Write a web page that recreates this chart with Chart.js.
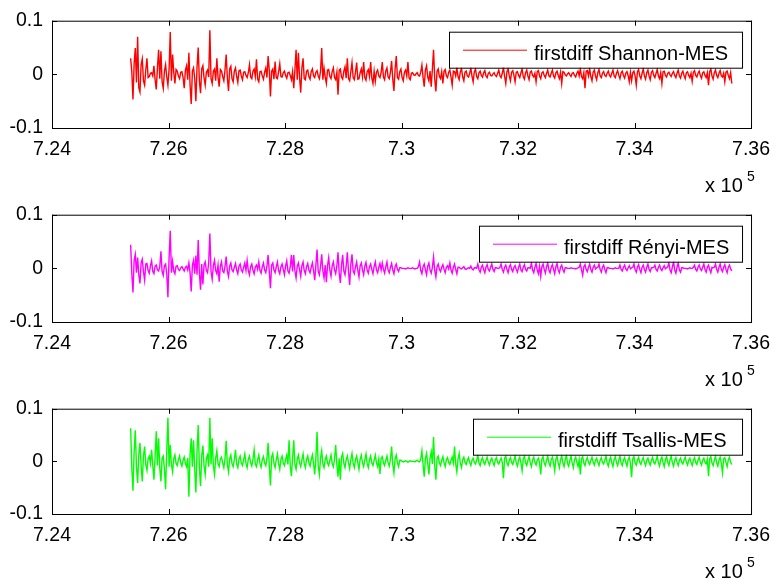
<!DOCTYPE html>
<html>
<head>
<meta charset="utf-8">
<script src="https://cdn.jsdelivr.net/npm/chart.js@4.4.0/dist/chart.umd.min.js"></script>
<style>
  body { margin: 0; background: #fff; }
  #wrap { position: relative; width: 780px; height: 582px; }
  canvas { position: absolute; left: 0; }
</style>
</head>
<body>
<div id="wrap">
  <canvas id="c1" width="780" height="194" style="top:0px"></canvas>
  <canvas id="c2" width="780" height="194" style="top:194px"></canvas>
  <canvas id="c3" width="780" height="194" style="top:388px"></canvas>
</div>
<script>
// samples: one every 20 units starting at 7.2535e5
var xStart = 725350;
var xStep = 20;

var xTicks = [724000, 726000, 728000, 730000, 732000, 734000, 736000];
var xTickLabels = ['7.24', '7.26', '7.28', '7.3', '7.32', '7.34', '7.36'];
var yTicks = [-0.1, 0, 0.1];
var yTickLabels = ['-0.1', '0', '0.1'];

var seriesNames = ['firstdiff Shannon-MES', 'firstdiff R\u00e9nyi-MES', 'firstdiff Tsallis-MES'];

// values in units of 1e-3
var shannonMilli = [
  30, 5, -47, 20, 49, -15, 70, -25, -33, 18, 29, -12, -20, 8, 30, -6, -4, 2, 3, -3,
  16, -10, -28, 12, 46, -8, 43, -14, -26, 6, 18, -5, -20, 10, 79, -12, 37, 4, -17, 9,
  6, -3, -8, 4, 5, -6, -26, 8, 16, -10, 40, -20, -55, 6, 12, -8, -50, 14, 50, -12,
  -35, 10, 16, -6, -20, 4, 8, -5, 82, -8, -17, 6, 10, -12, 30, -5, -23, 9, 6, -4,
  -12, 8, 37, -6, -31, 10, 15, -8, -14, 6, 12, -4, -15, 7, 8, -3, -10, 4, 5, -2,
  -6, 3, 18, -5, -8, 6, 10, -4, 28, -9, -14, 5, 6, -3, -9, 4, 12, -6, 34, 8,
  -41, 6, 10, -9, 24, -6, -8, 5, 20, -4, -5, 3, 6, -2, -7, 3, 4, -2, -10, 5,
  -26, 8, 46, -10, 40, -6, -34, 12, 30, -8, -10, 6, 8, -4, -9, 5, 10, -3, -6, 4,
  7, -3, -8, 6, 49, -10, 12, -5, -17, 8, 9, -4, -8, 5, 12, -6, -10, 4, -38, 8,
  10, -5, -9, 6, 14, -7, 30, -8, -12, 5, 22, -6, -10, 4, 22, -9, -8, 3, 10, -5,
  23, -6, -11, 5, 9, -4, 23, -7, -17, 6, -13, 4, 8, -3, -6, 3, 23, -5, -10, 6,
  12, -5, -8, 4, 25, -9, -31, 10, 34, -6, -9, 5, 10, -6, -12, 4, 8, -3, 23, -7,
  -10, 2, 3, -1, -2, 1, 3, -2, -3, 4, 17, -6, -23, 8, 16, -5, -12, 6, -23, 10,
  46, -8, -32, 6, 10, -4, -8, 5, -17, 6, 9, -3, -6, 4, 8, -5, -20, 6, 5, -3,
  12, -4, -10, 5, 11, -5, -12, 4, 6, -3, -5, 2, 12, -4, -14, 5, 10, -4, -8, 3,
  6, -2, -5, 3, 7, -3, -6, 2, 4, -2, -3, 1, 3, -2, -4, 2, 8, -3, -6, 2,
  13, -4, -17, 5, 10, -3, -12, 4, 7, -2, -14, 4, 5, -2, -6, 3, 10, -4, -9, 3,
  8, -3, -10, 4, 6, -2, -5, 2, -14, 5, 7, -3, -8, 3, 5, -2, -6, 2, 8, -3,
  -5, 2, 8, -3, -7, 3, 6, -2, -8, 4, -17, 5, 4, -1, -3, 1, 3, -1, -4, 2,
  3, -2, -5, 2, 6, -3, 10, -4, -8, 3, -26, 6, 7, -3, 10, -4, -12, 4, 8, -3,
  -10, 3, 9, -3, -6, 2, 5, -2, -4, 2, 6, -2, -5, 2, 8, -3, -6, 2, 7, -2,
  -8, 3, 6, -2, -7, 2, 5, -2, -14, 4, -12, 3, 6, -3, -20, 5, 9, -3, -8, 2,
  10, -3, -9, 3, 8, -3, -10, 4, 7, -2, -6, 2, 9, -3, -8, 3, -17, 5, 6, -2,
  -5, 2, 4, -1, -4, 2, 5, -2, -6, 2, 8, -3, -7, 2, 6, -2, -8, 3, 5, -2,
  -6, 2, -13, 4, 7, -2, -5, 2, 6, -2, -7, 3, 5, -2, -6, 3, -20, 5, 10, -3,
  -9, 3, 8, -2, -6, 2, 7, -3, -5, 2, -14, 4, 6, -2, -8, 3, -17
];

var renyiMilli = [
  44, -10, -45, 15, 26, -8, 20, -12, -28, 10, 17, -6, -22, 8, 9, -4, -9, 5, 14, -6,
  -10, 4, 6, -3, -5, 3, 32, -6, -13, 5, 8, -10, -54, 20, 70, -8, 13, -5, -10, 4,
  5, -2, -4, 1, 3, -1, -5, 2, 4, -3, 10, -8, -43, 6, 15, -10, 24, -12, 53, -8,
  -40, 8, -30, 6, 12, -4, -8, 10, 65, -6, -20, 5, 15, -4, -10, 6, -25, 4, 12, -5,
  -8, 3, 22, -5, -15, 4, 10, -3, -6, 2, 9, -3, -10, 4, 8, -3, -7, 2, 10, -4,
  15, -4, -12, 3, 8, -3, -10, 2, 6, -2, 12, -4, -9, 3, 10, -3, -8, 4, 25, -6,
  -37, 6, 10, -3, -8, 3, 12, -4, -10, 3, 8, -2, -12, 4, 14, -5, -9, 3, 25, -6,
  25, -5, -18, 4, 10, -3, -15, 5, 12, -4, -10, 3, 9, -3, -8, 2, 10, -4, -22, 6,
  35, -6, -12, 4, 26, -5, -18, 6, -26, 5, 20, -4, -15, 5, 12, -3, -10, 4, 30, -8,
  -27, 6, 25, -5, -12, 4, 30, -6, -31, 8, 26, -5, -10, 3, 12, -4, -16, 5, 10, -3,
  -12, 4, 11, -3, -9, 3, 8, -2, -10, 3, 12, -3, -8, 2, 9, -3, 10, -2, -9, 3,
  12, -3, -8, 2, 9, -3, -10, 3, 8, -2, -6, 1, 1, 0, 0, 0, -1, 0, 1, 0,
  0, 0, 1, 0, -1, 0, 0, 3, 12, -4, -10, 3, 8, -3, -12, 4, 10, -3, -9, 2,
  21, -4, -16, 3, 8, -2, -6, 2, 7, -2, -8, 2, 5, -1, 10, -3, -9, 2, 8, -2,
  -10, 2, 2, 0, -1, 1, 3, -1, -2, 0, 1, 0, 4, -1, -3, 1, 1, 0, 8, -2,
  -7, 2, 6, -2, -8, 2, 7, -2, -5, 2, 8, -2, -6, 1, 1, 0, 0, 2, 8, -2,
  -7, 2, 6, -2, -8, 3, 7, -2, -6, 2, 5, -2, -7, 2, 8, -3, -6, 2, 7, -2,
  -5, 1, 1, 0, 10, -3, -8, 2, 9, -3, -10, 4, -15, 3, 8, -2, -9, 3, 10, -3,
  -8, 2, 7, -2, -10, 3, 9, -3, -8, 2, 6, -2, -7, 1, 1, 0, 0, 0, 1, 0,
  0, 0, -1, 0, 1, 2, 8, -3, -13, 3, 7, -2, -6, 2, 8, -2, -7, 2, 6, -1,
  1, 2, 8, -2, -7, 2, 6, -2, -8, 1, 1, 0, 0, 0, -1, 0, 1, 0, 0, 0,
  6, -2, -5, 2, 6, -1, -4, 1, 5, -1, 1, 2, 8, -2, -7, 2, 7, -2, -8, 2,
  6, -2, -7, 2, 8, -2, -6, 1, 1, 2, 6, -2, -5, 2, 6, -1, -4, 1, 5, -1,
  1, 3, 10, -3, -8, 3, 12, -3, -9, 2, 10, -3, -7, 1, 1, 0, 0, 0, -1, 0,
  1, 0, 0, 2, 6, -2, -5, 2, 6, -1, -4, 2, 8, -2, -7, 2, 6, -2, -8, 2,
  1, 2, 8, -2, -7, 2, 8, -2, -6, 2, 7, -2, -8, 2, 6, -1, -5
];

var tsallisMilli = [
  63, -12, -56, 18, 59, -10, -41, 12, 35, -8, -38, 10, 28, -6, -17, 5, 10, -4, 22, -8,
  -35, 10, 57, -8, 44, -12, -38, 6, 10, -15, -53, 20, 83, -10, 31, -6, -20, 5, 12, -4,
  -8, 3, 10, -3, -9, 2, 8, -4, -10, 6, -67, 12, 44, -10, 40, -15, -59, 20, 69, -12,
  -47, 10, 30, -8, -25, 6, 12, -10, 83, -6, 44, -8, -25, 6, 20, -5, -10, 4, 8, -3,
  -12, 5, 39, -6, -20, 5, 12, -4, -10, 3, 22, -5, -12, 4, 10, -3, -8, 3, 14, -4,
  -12, 4, 10, -3, -9, 4, 22, -5, -10, 3, 12, -4, -11, 3, 9, -3, -8, 5, 35, -8,
  -46, 8, 15, -4, -12, 3, 14, -4, -15, 4, 10, -3, -8, 3, 12, -6, 40, -8, -28, 6,
  40, -6, -15, 4, 12, -3, -10, 3, 14, -4, -12, 3, 10, -3, -9, 3, 12, -4, -25, 6,
  56, -8, -25, 6, 20, -5, -12, 3, 10, -3, -8, 2, 12, -4, -10, 4, 31, -6, -29, 6,
  -35, 8, 15, -4, -12, 3, 10, -3, -14, 4, 15, -4, -12, 3, 10, -3, -15, 4, 12, -3,
  -10, 3, 14, -4, -12, 3, 10, -3, -8, 2, 12, -3, -10, 4, -24, 6, 9, -3, -8, 2,
  10, -3, -9, 4, 28, -6, -22, 5, 12, -3, -10, 2, 2, 0, -1, 0, 1, 0, -2, 0,
  1, 0, 0, 0, -1, 1, 2, 0, -1, 4, 20, -6, -29, 5, 15, -4, -25, 6, 18, -5,
  46, -8, -35, 6, 10, -3, -8, 2, 9, -3, -10, 3, 7, -2, -6, 2, 8, -3, 28, -5,
  -20, 4, 15, -4, -12, 3, 8, -2, -6, 2, 7, -2, -8, 2, 6, -2, -5, 2, 12, -3,
  -8, 2, 7, -2, -6, 2, 8, -2, -7, 2, 6, -2, -8, 3, 7, -2, -5, 1, 6, -2,
  -32, 6, 10, -3, -8, 2, 7, -2, -6, 2, 10, -3, -9, 3, 8, -3, -18, 4, 10, -3,
  -8, 2, 9, -3, -10, 3, 8, -2, -7, 2, 6, -3, -25, 5, 9, -3, -8, 2, 10, -3,
  -9, 3, 8, -3, -18, 4, 10, -3, -12, 3, 11, -3, -10, 3, 12, -4, -9, 2, 10, -3,
  -12, 3, 8, -2, -10, 3, -25, 5, 9, -3, -8, 2, 7, -2, -6, 2, 8, -2, -7, 2,
  6, -2, -8, 2, 7, -2, -5, 2, 10, -3, -9, 2, 8, -3, -10, 3, 9, -2, -8, 2,
  10, -3, -8, 2, 7, -2, -9, 3, 8, -4, -30, 5, 9, -3, -7, 2, 8, -2, -6, 2,
  7, -2, -8, 2, 6, -2, -7, 2, 8, -2, -5, 2, 10, -3, -9, 3, 8, -2, -10, 3,
  9, -2, -8, 3, 10, -3, -9, 2, 7, -2, -8, 2, 6, -2, -5, 2, 8, -2, -7, 2,
  6, -2, -8, 2, 7, -2, -6, 2, 8, -2, -7, 2, 6, -2, -5, 4, -28, 5, 9, -3,
  -8, 2, 10, -3, -9, 2, 8, -4, -22, 5, 7, -2, -10, 3, 8, -2, -6
];

var FONT = "'Liberation Sans', Arial, sans-serif";

function toPoints(milli) {
  return milli.map(function (v, i) { return { x: xStart + i * xStep, y: v / 1000 }; });
}

// matlab-ish axes box, inner ticks, legend and the x 10^5 note
var boxPlugin = {
  id: 'matlabBox',
  afterDatasetsDraw: function (chart, args, o) {
    var ctx = chart.ctx, a = chart.chartArea;
    var xs = chart.scales.x, ys = chart.scales.y;
    ctx.save();

    // legend
    var bx = o.legendLeft, by = a.top + o.legendTop;
    var bw = a.right - 9 - bx, bh = 36;
    ctx.fillStyle = '#fff';
    ctx.fillRect(bx, by, bw, bh);
    ctx.strokeStyle = '#000';
    ctx.lineWidth = 1;
    ctx.strokeRect(bx + 0.5, by + 0.5, bw, bh);
    ctx.strokeStyle = o.color;
    ctx.beginPath();
    ctx.moveTo(bx + 14, by + 18.5);
    ctx.lineTo(bx + 78, by + 18.5);
    ctx.stroke();
    ctx.fillStyle = '#000';
    ctx.font = '20px ' + FONT;
    ctx.textBaseline = 'alphabetic';
    ctx.textAlign = 'left';
    ctx.fillText(o.label, bx + 85, by + 28);

    // box
    ctx.strokeStyle = '#000';
    ctx.strokeRect(a.left + 0.5, a.top + 0.5, a.right - a.left, a.bottom - a.top);

    // inner ticks
    ctx.beginPath();
    xTicks.forEach(function (v) {
      var px = Math.round(xs.getPixelForValue(v)) + 0.5;
      ctx.moveTo(px, a.top);
      ctx.lineTo(px, a.top + 5);
      ctx.moveTo(px, a.bottom);
      ctx.lineTo(px, a.bottom - 5);
    });
    yTicks.forEach(function (v) {
      var py = Math.round(ys.getPixelForValue(v)) + 0.5;
      ctx.moveTo(a.left, py);
      ctx.lineTo(a.left + 5, py);
      ctx.moveTo(a.right, py);
      ctx.lineTo(a.right - 5, py);
    });
    ctx.stroke();

    // exponent note
    ctx.font = '20px ' + FONT;
    ctx.fillText('x 10', 705, a.bottom + 64);
    ctx.font = '14px ' + FONT;
    ctx.fillText('5', 747, a.bottom + 53);
    ctx.restore();
  }
};

function makeChart(id, values, color, label, plotTop, plotBottom, legendLeft, legendTop) {
  var h = 194;
  return new Chart(document.getElementById(id), {
    type: 'line',
    data: {
      datasets: [{
        label: label,
        data: toPoints(values),
        borderColor: color,
        borderWidth: 1.4,
        pointRadius: 0,
        tension: 0,
        fill: false
      }]
    },
    options: {
      responsive: false,
      animation: false,
      devicePixelRatio: 1,
      layout: { padding: { left: 0, right: 24, top: plotTop, bottom: 0 } },
      plugins: {
        legend: { display: false },
        tooltip: { enabled: false },
        matlabBox: { color: color, label: label, legendLeft: legendLeft, legendTop: legendTop }
      },
      scales: {
        x: {
          type: 'linear',
          min: 724000,
          max: 736000,
          afterBuildTicks: function (s) { s.ticks = xTicks.map(function (v) { return { value: v }; }); },
          afterFit: function (s) { s.height = h - plotBottom; },
          grid: { display: false, drawTicks: false },
          border: { display: false },
          ticks: {
            autoSkip: false,
            maxRotation: 0,
            padding: 10,
            color: '#000',
            font: { family: FONT, size: 19.5 },
            callback: function (v, i) { return xTickLabels[i]; }
          }
        },
        y: {
          min: -0.1,
          max: 0.1,
          afterBuildTicks: function (s) { s.ticks = yTicks.map(function (v) { return { value: v }; }); },
          afterFit: function (s) { s.width = 52; },
          grid: { display: false, drawTicks: false },
          border: { display: false },
          ticks: {
            padding: 9,
            color: '#000',
            font: { family: FONT, size: 19.5 },
            callback: function (v, i) { return yTickLabels[i]; }
          }
        }
      }
    },
    plugins: [boxPlugin]
  });
}

makeChart('c1', shannonMilli, '#ff0000', seriesNames[0], 16, 128, 449, 11);
makeChart('c2', renyiMilli, '#ff00ff', seriesNames[1], 15, 128, 479, 11);
makeChart('c3', tsallisMilli, '#00ff00', seriesNames[2], 17, 126, 473, 10);
</script>
</body>
</html>
